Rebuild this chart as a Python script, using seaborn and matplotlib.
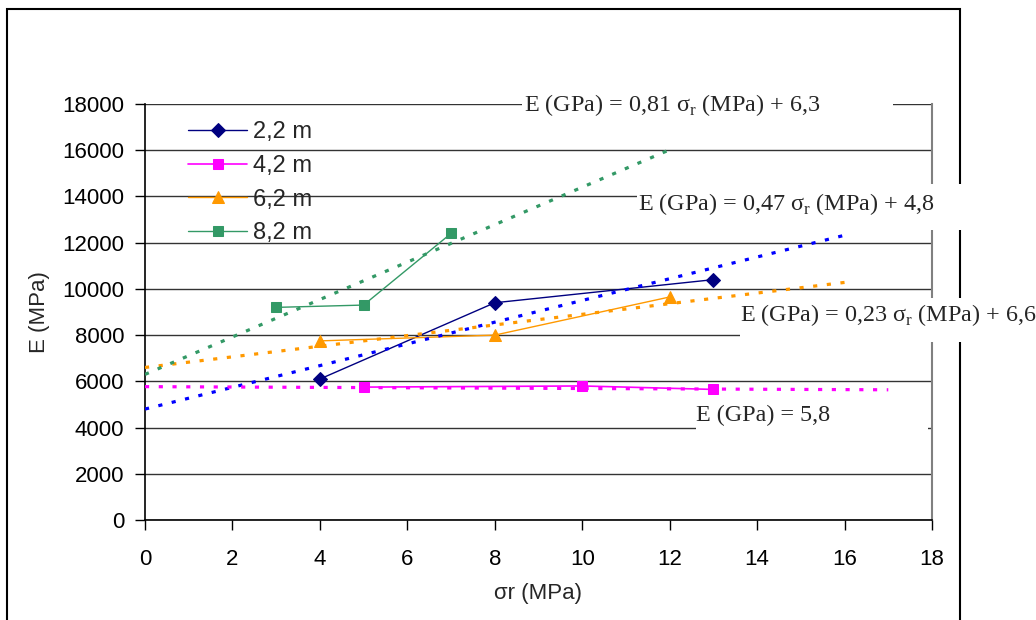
import matplotlib.pyplot as plt
import seaborn as sns
import pandas as pd
import numpy as np
from matplotlib.patches import Rectangle

# measured points: sigma_r (MPa) vs E (MPa), one series per depth
labels = ['2,2 m', '4,2 m', '6,2 m', '8,2 m']
x_22 = [4, 8, 13]
E_22 = [6100, 9400, 10400]
x_42 = [5, 10, 13]
E_42 = [5750, 5800, 5650]
x_62 = [4, 8, 12]
E_62 = [7750, 8000, 9650]
x_82 = [3, 5, 7]
E_82 = [9200, 9300, 12400]

# trend lines E = slope * sr + icpt, drawn from 0 to trend_end
trend_slope = [470, -8, 230, 810]
trend_icpt = [4800, 5770, 6600, 6300]
trend_end = [16, 17, 16, 12]

eq_texts = [
    'E (GPa) = 0,81 σ$_{\\mathrm{r}}$ (MPa) + 6,3',
    'E (GPa) = 0,47 σ$_{\\mathrm{r}}$ (MPa) + 4,8',
    'E (GPa) = 0,23 σ$_{\\mathrm{r}}$ (MPa) + 6,6',
    'E (GPa) = 5,8',
]

x_ticks = list(range(0, 19, 2))
y_ticks = list(range(0, 18001, 2000))

# styles
line_cols = ['#000080', '#FF00FF', '#FF9900', '#339966']
trend_cols = ['#0000FF', '#FF00FF', '#FF9900', '#339966']
markers = ['D', 's', '^', 's']
msizes = [7, 7, 8, 7]

sns.set_style('white')
plt.rcParams['font.family'] = ['Liberation Sans', 'DejaVu Sans']
plt.rcParams['mathtext.fontset'] = 'custom'
plt.rcParams['mathtext.rm'] = 'Liberation Serif'

W, H = 1036, 620
fig = plt.figure(figsize=(W / 100, H / 100), dpi=100)
ax = fig.add_axes([145 / W, 1 - 520 / H, (932 - 145) / W, (520 - 104) / H])

xs = [x_22, x_42, x_62, x_82]
Es = [E_22, E_42, E_62, E_82]
for i in range(4):
    sns.lineplot(x=xs[i], y=Es[i], color=line_cols[i], marker=markers[i],
                 markersize=msizes[i], markeredgecolor=line_cols[i],
                 linewidth=1.2 if i == 1 else 1.0, label=labels[i], sort=False,
                 ax=ax, zorder=3)

for i in range(4):
    tx = np.array([0, trend_end[i]])
    ty = trend_slope[i] * tx + trend_icpt[i]
    ax.plot(tx, ty, color=trend_cols[i], linewidth=2.3, dashes=(1.3, 3),
            dash_capstyle='butt', zorder=4)

ax.set_xlim(0, 18)
ax.set_ylim(0, 18000)
ax.set_xticks(x_ticks)
ax.set_yticks(y_ticks)
ax.yaxis.grid(True, color='#333333', linewidth=1.0)
ax.xaxis.grid(False)
ax.set_axisbelow(True)
ax.spines['top'].set_visible(False)
ax.spines['right'].set_color('#808080')
ax.spines['right'].set_linewidth(1.5)
for s in ['left', 'bottom']:
    ax.spines[s].set_color('black')
    ax.spines[s].set_linewidth(1.2)
ax.tick_params(axis='y', length=7, width=1, pad=8, labelsize=16, left=True,
               direction='out', colors='black')
ax.tick_params(axis='x', length=7, width=1, pad=14, labelsize=16, bottom=True,
               direction='out', colors='black')

ax.set_xlabel('σr (MPa)', fontsize=16)
ax.set_ylabel('E (MPa)', fontsize=16)
ax.xaxis.set_label_coords((538 - 145) / 787, (520 - 593) / 416)
ax.xaxis.label.set_va('center')
ax.yaxis.set_label_coords((40 - 145) / 787, 0.5)
ax.yaxis.label.set_va('center')

ax.legend(loc='upper left', bbox_to_anchor=((188 - 145) / 787, (520 - 121) / 416),
          frameon=False, fontsize=17, borderpad=0, borderaxespad=0,
          handlelength=2.5, handletextpad=0.27, labelspacing=0.5)


def px_rect(x0, y0, x1, y1, **kw):
    fig.add_artist(Rectangle((x0 / W, 1 - y1 / H), (x1 - x0) / W, (y1 - y0) / H,
                             transform=fig.transFigure, **kw))


# outer chart frame
px_rect(7, 9, 960, 660, fill=False, edgecolor='black', linewidth=1.5, zorder=4)

# white boxes behind the equation labels
boxes = [(522, 88, 893, 128), (637, 184, 975, 230), (740, 298, 1036, 342),
         (696, 395, 928, 432)]
for b in boxes:
    px_rect(*b, facecolor='white', edgecolor='none', zorder=5)

eq_pos = [(524, 111), (638, 210), (740, 321), (696, 421)]
for (px, py), t in zip(eq_pos, eq_texts):
    fig.text(px / W, 1 - py / H, t, fontsize=17.4, family='Liberation Serif',
             va='baseline', ha='left', zorder=6)

fig.savefig('out.png', dpi=100)
